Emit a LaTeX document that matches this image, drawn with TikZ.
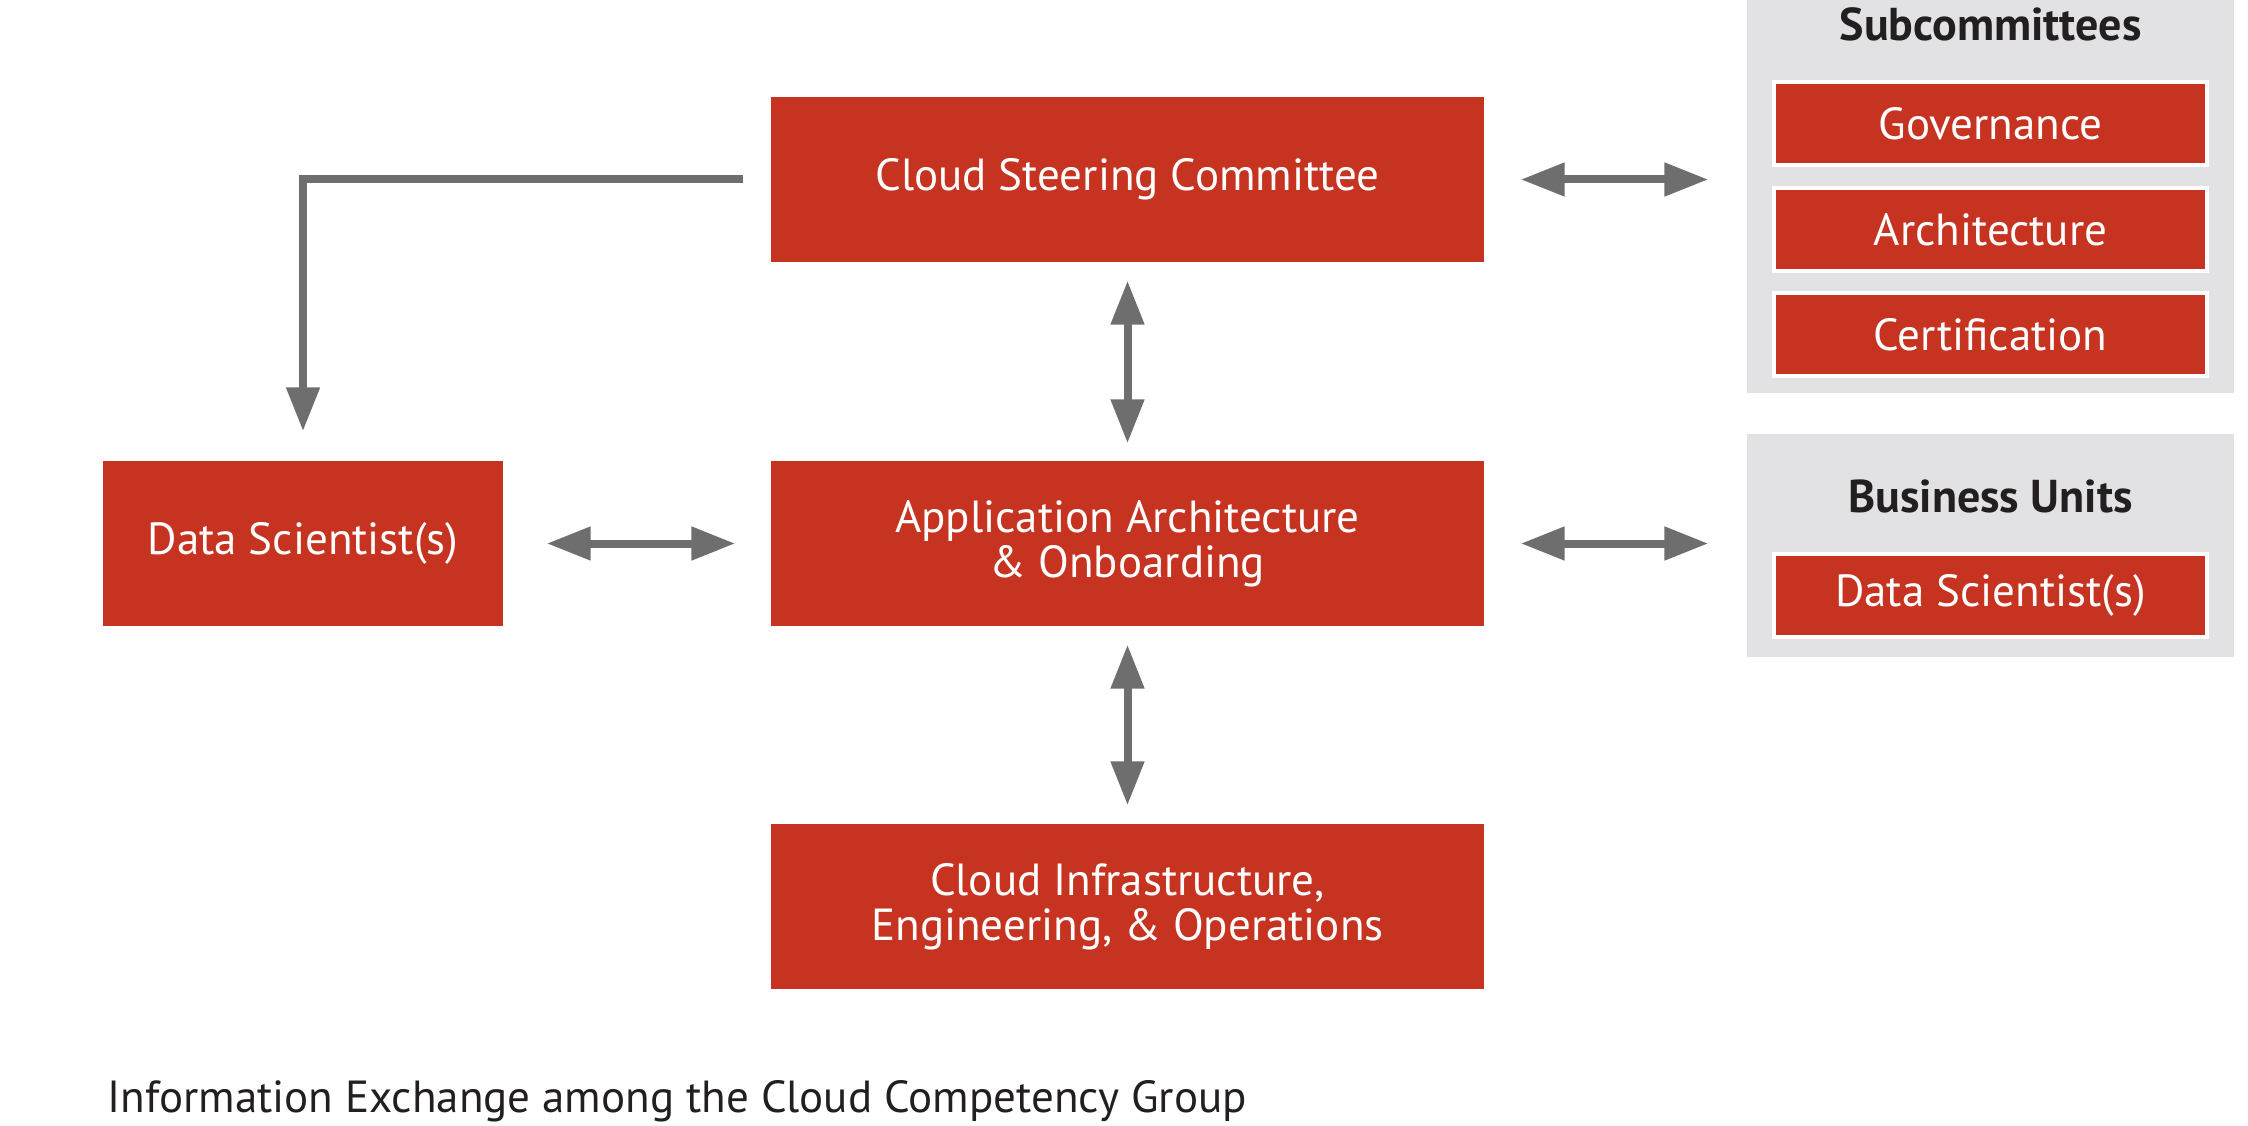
\documentclass[tikz,border=0pt]{standalone}
\usepackage{fontspec}
\setmainfont{PT Sans}
\usetikzlibrary{arrows.meta}
\definecolor{boxred}{RGB}{198,51,33}
\definecolor{linegray}{RGB}{110,110,110}
\definecolor{panelgray}{RGB}{226,226,228}
\definecolor{inkdark}{RGB}{35,31,32}
\tikzset{
  >={Triangle[length=0.44cm,width=0.32cm]},
  redbox/.style={fill=boxred, text=white, align=center, inner sep=0pt, font=\fontsize{12.8}{12.8}\selectfont},
  bigbox/.style={redbox, minimum width=7.13cm, minimum height=1.65cm},
  subbox/.style={redbox, draw=white, line width=0.04cm, minimum width=4.33cm, minimum height=0.83cm},
  panel/.style={fill=panelgray, inner sep=0pt, minimum width=4.87cm},
  heading/.style={text=inkdark, font=\fontsize{13.1}{13.1}\selectfont\bfseries},
  link/.style={draw=linegray, line width=0.08cm},
}

\begin{document}
\begin{tikzpicture}
  \useasboundingbox (0,0) rectangle (22.48,-11.26);

  \node[bigbox] (steer) at (11.275,-1.795) {Cloud Steering Committee};
  \node[bigbox] (app) at (11.275,-5.435) {Application Architecture\\ \& Onboarding};
  \node[bigbox] (infra) at (11.275,-9.065) {Cloud Infrastructure,\\ Engineering, \& Operations};
  \node[bigbox, minimum width=4cm] (ds) at (3.03,-5.435) {Data Scientist(s)};

  \node[panel, minimum height=3.93cm] (sub) at (19.905,-1.965) {};
  \node[heading] (subtitle) at (19.905,-0.24) {Subcommittees};
  \node[subbox] (gov) at (19.905,-1.235) {Governance};
  \node[subbox] (arch) at (19.905,-2.295) {Architecture};
  \node[subbox] (cert) at (19.905,-3.345) {Certification};

  \node[panel, minimum height=2.23cm] (bu) at (19.905,-5.455) {};
  \node[heading] (butitle) at (19.905,-4.96) {Business Units};
  \node[subbox] (buds) at (19.905,-5.95) {Data Scientist(s)};

  \draw[link, ->, shorten <=0.27cm, shorten >=0.29cm] (steer.west) -| (ds.north);
  \draw[link, <->, shorten <=0.18cm, shorten >=0.17cm] (steer.south) -- (app.north);
  \draw[link, <->, shorten <=0.18cm, shorten >=0.18cm] (app.south) -- (infra.north);
  \draw[link, <->, shorten <=0.43cm, shorten >=0.35cm] (ds.east) -- (app.west);
  \draw[link, <->, shorten <=0.36cm, shorten >=0.38cm] (steer.east) -- (steer.east -| sub.west);
  \draw[link, <->, shorten <=0.36cm, shorten >=0.38cm] (app.east) -- (app.east -| bu.west);

  \node[anchor=west, inner sep=0pt, text=inkdark, font=\fontsize{12.8}{12.8}\selectfont] (caption) at (1.07,-11.01) {Information Exchange among the Cloud Competency Group};
\end{tikzpicture}
\end{document}
